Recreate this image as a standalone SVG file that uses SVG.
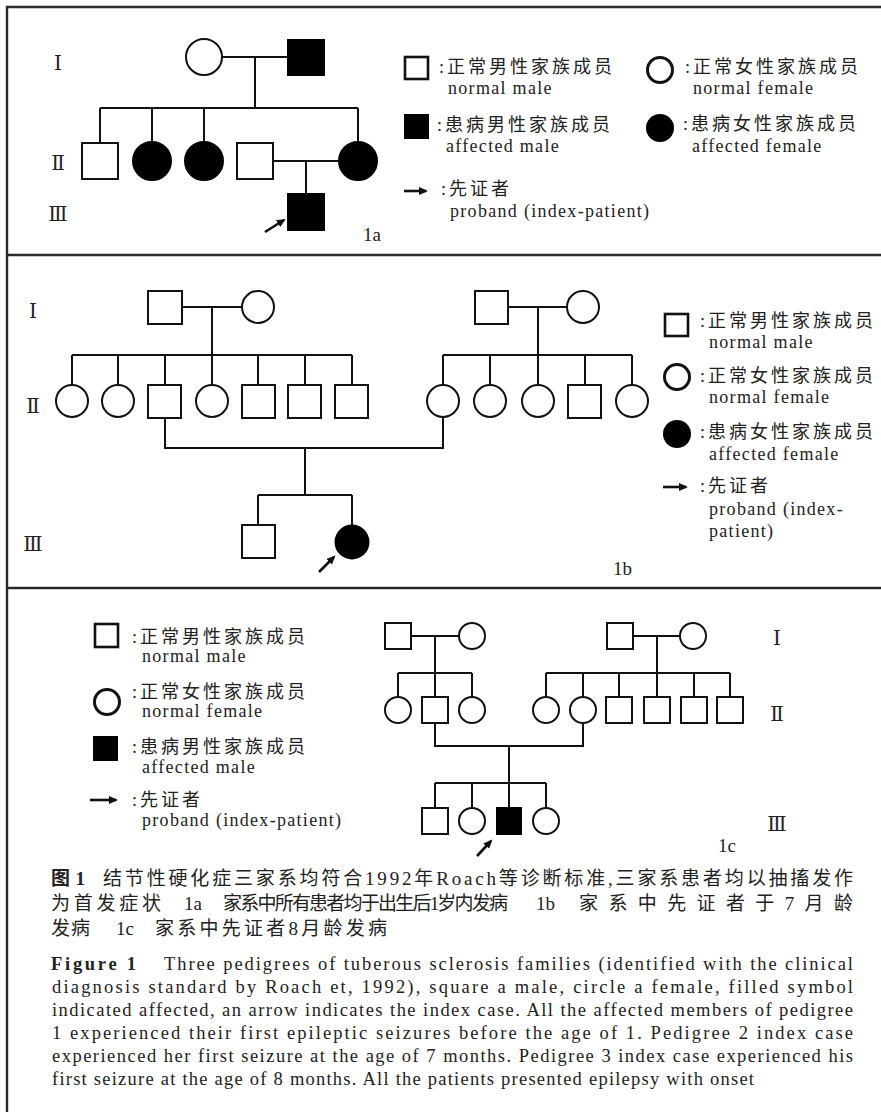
<svg xmlns="http://www.w3.org/2000/svg" width="881" height="1112" viewBox="0 0 881 1112">
<defs>
<style>
.ln{stroke:#111;stroke-width:2;fill:none}
.sym{stroke:#111;stroke-width:2;fill:#fff}
.aff{fill:#000;stroke:#000;stroke-width:2}
.lg{stroke:#111;stroke-width:2.6;fill:#fff}
.frame{stroke:#2a2a2a;stroke-width:2.4;fill:none}
.num{font-family:"Liberation Serif","DejaVu Serif","Noto Sans CJK SC",serif;font-size:20px;fill:#222;text-anchor:middle}
.zh{font-family:"Liberation Serif","Noto Sans CJK SC",serif;font-size:18px;letter-spacing:3px;fill:#222}
.en{font-family:"Liberation Serif",serif;font-size:18px;letter-spacing:1.3px;fill:#222}
.tag{font-family:"Liberation Serif",serif;font-size:19px;fill:#222}
.cap{font-family:"Liberation Serif","Noto Sans CJK SC",serif;font-size:19px;fill:#222}
.cape{font-family:"Liberation Serif",serif;font-size:18.5px;fill:#222}
.b{font-weight:bold}
.arr{stroke:#111;stroke-width:2.6;fill:none}
</style>
<marker id="ah" markerUnits="userSpaceOnUse" markerWidth="10" markerHeight="10" refX="7" refY="4" orient="auto">
<path d="M0,0 L9,4 L0,8 z" fill="#111"/>
</marker>
</defs>
<rect width="881" height="1112" fill="#fff"/>
<g id="frame">
<path class="frame" d="M881,7 H7 V1112"/>
<path class="frame" d="M7,255 H881"/>
<path class="frame" d="M7,588 H881"/>
</g>

<!-- ===== Panel 1a ===== -->
<g id="p1a-labels">
<text class="num" x="58" y="70">Ⅰ</text>
<text class="num" x="58" y="170">Ⅱ</text>
<text class="num" x="58" y="221">Ⅲ</text>
<text class="tag" x="363" y="241">1a</text>
</g>
<g id="connectors">
<path class="ln" d="M222,57 H288 M255,57 V108 M100,108 H358 M100,108 V143 M152,108 V142 M204,108 V142 M358,108 V142 M273,161 H339 M306,161 V194"/>
<path class="ln" d="M182,307 H242 M212,307 V355 M72,355 H352 M72,355 V385 M118,355 V385 M165,355 V385 M212,355 V385 M258,355 V385 M305,355 V385 M352,355 V385"/>
<path class="ln" d="M508,307 H567 M538,307 V355 M443,355 H632 M443,355 V385 M490,355 V385 M538,355 V385 M585,355 V385 M632,355 V385"/>
<path class="ln" d="M165,418 V448 H443 V417 M305,448 V495 M258,495 H352 M258,495 V525 M352,495 V525"/>
<path class="ln" d="M411,636 H459 M435,636 V673 M398,673 H472 M398,673 V697 M435,673 V697 M472,673 V697"/>
<path class="ln" d="M633,636 H680 M657,636 V673 M546,673 H730 M546,673 V697 M583,673 V697 M619,673 V697 M657,673 V697 M694,673 V697 M730,673 V697"/>
<path class="ln" d="M435,723 V746 H583 V723 M509,746 V783 M435,783 H546 M435,783 V808 M472,783 V808 M509,783 V808 M546,783 V808"/>
<path class="arr" d="M265,232 L284,220" marker-end="url(#ah)"/>
<path class="arr" d="M319,572 L334,557" marker-end="url(#ah)"/>
<path class="arr" d="M477,856 L491,841" marker-end="url(#ah)"/>
</g>
<g id="a-I-1"><circle class="sym" cx="204" cy="57" r="18"/></g>
<g id="a-I-2"><rect class="aff" x="288" y="40" width="36" height="35"/></g>
<g id="a-II-1"><rect class="sym" x="82" y="143" width="36" height="36"/></g>
<g id="a-II-2"><circle class="aff" cx="152" cy="161" r="19"/></g>
<g id="a-II-3"><circle class="aff" cx="204" cy="161" r="19"/></g>
<g id="a-II-4"><rect class="sym" x="237" y="143" width="36" height="36"/></g>
<g id="a-II-5"><circle class="aff" cx="358" cy="161" r="19"/></g>
<g id="a-III-1"><rect class="aff" x="288" y="194" width="36" height="36"/></g>

<g id="a-legend">
<rect class="lg" x="405" y="57" width="23" height="22"/>
<text class="zh" x="439" y="73">:正常男性家族成员</text>
<text class="en" x="448" y="94">normal male</text>
<rect x="404" y="114" width="25" height="25" fill="#000"/>
<text class="zh" x="437" y="131">:患病男性家族成员</text>
<text class="en" x="446" y="152">affected male</text>
<path class="arr" d="M404,191 L426,191" marker-end="url(#ah)"/>
<text class="zh" x="441" y="195">:先证者</text>
<text class="en" x="450" y="217">proband (index-patient)</text>
<circle cx="660" cy="70" r="12.5" fill="#fff" stroke="#111" stroke-width="3"/>
<text class="zh" x="685" y="73">:正常女性家族成员</text>
<text class="en" x="693" y="94">normal female</text>
<circle cx="660" cy="128" r="14" fill="#000"/>
<text class="zh" x="683" y="130">:患病女性家族成员</text>
<text class="en" x="692" y="152">affected female</text>
</g>

<!-- ===== Panel 1b ===== -->
<g id="p1b-labels">
<text class="num" x="33" y="318">Ⅰ</text>
<text class="num" x="33" y="413">Ⅱ</text>
<text class="num" x="33" y="551">Ⅲ</text>
<text class="tag" x="613" y="575">1b</text>
</g>
<g id="b-I-1"><rect class="sym" x="148" y="291" width="34" height="33"/></g>
<g id="b-I-2"><circle class="sym" cx="258" cy="307" r="16"/></g>
<g id="b-II-1"><circle class="sym" cx="72" cy="401" r="16"/></g>
<g id="b-II-2"><circle class="sym" cx="118" cy="401" r="16"/></g>
<g id="b-II-3"><rect class="sym" x="148" y="385" width="33" height="33"/></g>
<g id="b-II-4"><circle class="sym" cx="212" cy="401" r="16"/></g>
<g id="b-II-5"><rect class="sym" x="242" y="385" width="33" height="33"/></g>
<g id="b-II-6"><rect class="sym" x="288" y="385" width="33" height="33"/></g>
<g id="b-II-7"><rect class="sym" x="335" y="385" width="33" height="33"/></g>
<g id="b-I-3"><rect class="sym" x="475" y="291" width="33" height="33"/></g>
<g id="b-I-4"><circle class="sym" cx="583" cy="307" r="16"/></g>
<g id="b-II-8"><circle class="sym" cx="443" cy="401" r="16"/></g>
<g id="b-II-9"><circle class="sym" cx="490" cy="401" r="16"/></g>
<g id="b-II-10"><circle class="sym" cx="538" cy="401" r="16"/></g>
<g id="b-II-11"><rect class="sym" x="568" y="385" width="33" height="33"/></g>
<g id="b-II-12"><circle class="sym" cx="632" cy="401" r="16"/></g>
<g id="b-III-1"><rect class="sym" x="242" y="525" width="33" height="33"/></g>
<g id="b-III-2"><circle class="aff" cx="352" cy="542" r="16.5"/></g>

<g id="b-legend">
<rect class="lg" x="665" y="314" width="23" height="22"/>
<text class="zh" x="700" y="327">:正常男性家族成员</text>
<text class="en" x="709" y="348">normal male</text>
<circle cx="677" cy="377" r="12.5" fill="#fff" stroke="#111" stroke-width="3"/>
<text class="zh" x="700" y="382">:正常女性家族成员</text>
<text class="en" x="709" y="403">normal female</text>
<circle cx="677" cy="434" r="14" fill="#000"/>
<text class="zh" x="700" y="438">:患病女性家族成员</text>
<text class="en" x="709" y="460">affected female</text>
<path class="arr" d="M663,487 L686,487" marker-end="url(#ah)"/>
<text class="zh" x="700" y="492">:先证者</text>
<text class="en" x="709" y="515">proband (index-</text>
<text class="en" x="709" y="537">patient)</text>
</g>

<!-- ===== Panel 1c ===== -->
<g id="c-legend">
<rect class="lg" x="95" y="624" width="23" height="23"/>
<text class="zh" x="132" y="643">:正常男性家族成员</text>
<text class="en" x="142" y="662">normal male</text>
<circle cx="107" cy="702" r="12.5" fill="#fff" stroke="#111" stroke-width="3"/>
<text class="zh" x="132" y="698">:正常女性家族成员</text>
<text class="en" x="142" y="717">normal female</text>
<rect x="93" y="736" width="25" height="25" fill="#000"/>
<text class="zh" x="132" y="753">:患病男性家族成员</text>
<text class="en" x="142" y="773">affected male</text>
<path class="arr" d="M90,800 L116,800" marker-end="url(#ah)"/>
<text class="zh" x="132" y="806">:先证者</text>
<text class="en" x="142" y="826">proband (index-patient)</text>
</g>
<g id="p1c-labels">
<text class="num" x="777" y="645">Ⅰ</text>
<text class="num" x="777" y="721">Ⅱ</text>
<text class="num" x="777" y="831">Ⅲ</text>
<text class="tag" x="718" y="852">1c</text>
</g>
<g id="c-I-1"><rect class="sym" x="385" y="623" width="26" height="26"/></g>
<g id="c-I-2"><circle class="sym" cx="472" cy="636" r="13"/></g>
<g id="c-II-1"><circle class="sym" cx="398" cy="710" r="13"/></g>
<g id="c-II-2"><rect class="sym" x="422" y="697" width="26" height="26"/></g>
<g id="c-II-3"><circle class="sym" cx="472" cy="710" r="13"/></g>
<g id="c-I-3"><rect class="sym" x="607" y="623" width="26" height="26"/></g>
<g id="c-I-4"><circle class="sym" cx="693" cy="636" r="13"/></g>
<g id="c-II-4"><circle class="sym" cx="546" cy="710" r="13"/></g>
<g id="c-II-5"><circle class="sym" cx="583" cy="710" r="13"/></g>
<g id="c-II-6"><rect class="sym" x="606" y="697" width="26" height="26"/></g>
<g id="c-II-7"><rect class="sym" x="644" y="697" width="26" height="26"/></g>
<g id="c-II-8"><rect class="sym" x="681" y="697" width="26" height="26"/></g>
<g id="c-II-9"><rect class="sym" x="717" y="697" width="26" height="26"/></g>
<g id="c-III-1"><rect class="sym" x="422" y="808" width="26" height="26"/></g>
<g id="c-III-2"><circle class="sym" cx="472" cy="821" r="13"/></g>
<g id="c-III-3"><rect class="aff" x="497" y="808" width="24" height="26"/></g>
<g id="c-III-4"><circle class="sym" cx="546" cy="821" r="13"/></g>

<!-- ===== Caption ===== -->
<g id="caption">
<text class="cap b" x="51" y="885" textLength="34" lengthAdjust="spacing">图1</text>
<text class="cap" x="103" y="885" textLength="750" lengthAdjust="spacing">结节性硬化症三家系均符合1992年Roach等诊断标准,三家系患者均以抽搐发作</text>
<text class="cap" x="51" y="910" textLength="110" lengthAdjust="spacing">为首发症状</text>
<text class="cap" x="184" y="910">1a</text>
<text class="cap" x="223" y="910" font-size="17" textLength="285" lengthAdjust="spacing">家系中所有患者均于出生后1岁内发病</text>
<text class="cap" x="536" y="910">1b</text>
<text class="cap" x="579" y="910" textLength="274" lengthAdjust="spacing">家系中先证者于7月龄</text>
<text class="cap" x="51" y="935" textLength="39" lengthAdjust="spacing">发病</text>
<text class="cap" x="116" y="935">1c</text>
<text class="cap" x="155" y="935" textLength="232" lengthAdjust="spacing">家系中先证者8月龄发病</text>
<text class="cape b" x="51" y="970" font-size="19" textLength="85" lengthAdjust="spacing">Figure 1</text>
<text class="cape" x="164" y="970" textLength="689" lengthAdjust="spacing">Three pedigrees of tuberous sclerosis families (identified with the clinical</text>
<text class="cape" x="52" y="993" textLength="801" lengthAdjust="spacing">diagnosis standard by Roach et, 1992), square a male, circle a female, filled symbol</text>
<text class="cape" x="52" y="1016" textLength="801" lengthAdjust="spacing">indicated affected, an arrow indicates the index case.  All the affected members of pedigree</text>
<text class="cape" x="52" y="1039" textLength="801" lengthAdjust="spacing">1 experienced their first epileptic seizures before the age of 1.  Pedigree 2 index case</text>
<text class="cape" x="52" y="1062" textLength="801" lengthAdjust="spacing">experienced her first seizure at the age of 7 months.  Pedigree 3 index case experienced his</text>
<text class="cape" x="52" y="1085" textLength="702" lengthAdjust="spacing">first seizure at the age of 8 months. All the patients presented epilepsy with onset</text>
</g>
</svg>
